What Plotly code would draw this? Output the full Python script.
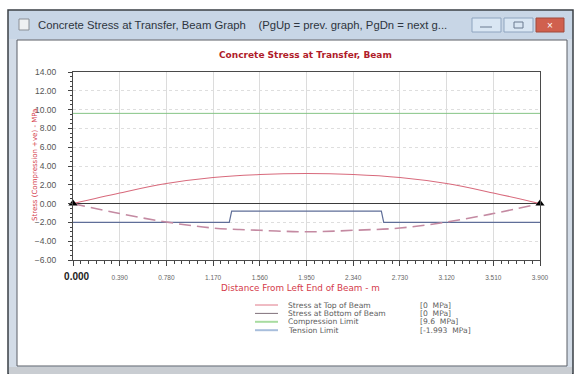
import plotly.graph_objects as go

# ---------------- data ----------------
x_pos = [0.0, 0.39, 0.78, 1.17, 1.56, 1.95, 2.34, 2.73, 3.12, 3.51, 3.90]
stress_top = [0.0, 1.13, 2.13, 2.77, 3.09, 3.20, 3.09, 2.77, 2.13, 1.13, 0.0]
stress_bottom = [0.0, -1.06, -1.96, -2.60, -2.84, -3.00, -2.84, -2.60, -1.96, -1.06, 0.0]
compression_limit = 9.6
tension_x = [0.0, 1.305, 1.325, 2.575, 2.595, 3.90]
tension_y = [-1.993, -1.993, -0.80, -0.80, -1.993, -1.993]
support_x = [0.0, 3.90]
support_y = [0.0, 0.0]
x_ticks = [0.0, 0.39, 0.78, 1.17, 1.56, 1.95, 2.34, 2.73, 3.12, 3.51, 3.90]
legend_names = ["Stress at Top of Beam", "Stress at Bottom of Beam", "Compression Limit", "Tension Limit"]
legend_values = ["[0  MPa]", "[0  MPa]", "[9.6  MPa]", "[-1.993  MPa]"]
legend_colors = ["#e07888", "#80707a", "#a8dca0", "#a8bedc"]
legend_widths = [1, 1, 2, 2]

# ---------------- layout geometry (pixels) ----------------
W, H = 574, 374
L, R, T, B = 73, 540, 72, 260
PW, PH = R - L, B - T


def px(x):
    return (x - L) / PW


def py(y):
    return (B - y) / PH


fig = go.Figure()

fig.add_trace(go.Scatter(x=[0, 3.9], y=[compression_limit] * 2, mode="lines",
                         line=dict(color="#86c486", width=1), showlegend=False))
fig.add_trace(go.Scatter(x=tension_x, y=tension_y, mode="lines",
                         line=dict(color="#5f6e98", width=1.2), showlegend=False))
fig.add_trace(go.Scatter(x=x_pos, y=stress_bottom, mode="lines",
                         line=dict(color="#c48aa2", width=1.6, dash="12px,6px", shape="spline"),
                         showlegend=False))
fig.add_trace(go.Scatter(x=x_pos, y=stress_top, mode="lines",
                         line=dict(color="#d86a7c", width=1.1, shape="spline"),
                         showlegend=False))
fig.add_trace(go.Scatter(x=support_x, y=support_y, mode="markers",
                         marker=dict(symbol="triangle-up", size=8, color="black"),
                         cliponaxis=False, showlegend=False))

shapes = []
# window outer frame
shapes.append(dict(type="rect", xref="paper", yref="paper", x0=px(8), x1=px(573), y0=py(10), y1=py(374),
                   fillcolor="#d3dce7", line=dict(color="#3a3f45", width=1.5), layer="below"))
# title bar
shapes.append(dict(type="rect", xref="paper", yref="paper", x0=px(9), x1=px(572), y0=py(11), y1=py(39),
                   fillcolor="#c8d6e6", line=dict(width=0), layer="below"))
# client area
shapes.append(dict(type="rect", xref="paper", yref="paper", x0=px(17), x1=px(567), y0=py(40), y1=py(366),
                   fillcolor="white", line=dict(color="#5a5f66", width=1), layer="below"))
# bottom bar
shapes.append(dict(type="rect", xref="paper", yref="paper", x0=px(9), x1=px(572), y0=py(367), y1=py(374),
                   fillcolor="#c9cdd2", line=dict(width=0), layer="below"))
# icon
shapes.append(dict(type="rect", xref="paper", yref="paper", x0=px(19), x1=px(29), y0=py(19), y1=py(30),
                   fillcolor="#eef0f2", line=dict(color="#8a8f96", width=1), layer="below"))
# buttons
shapes.append(dict(type="rect", xref="paper", yref="paper", x0=px(472), x1=px(501), y0=py(18), y1=py(32),
                   fillcolor="#d9e6f3", line=dict(color="#8ea4bf", width=1), layer="below"))
shapes.append(dict(type="rect", xref="paper", yref="paper", x0=px(504), x1=px(533), y0=py(18), y1=py(32),
                   fillcolor="#d9e6f3", line=dict(color="#8ea4bf", width=1), layer="below"))
shapes.append(dict(type="rect", xref="paper", yref="paper", x0=px(536), x1=px(564), y0=py(18), y1=py(32),
                   fillcolor="#d0604e", line=dict(color="#a04a3c", width=1), layer="below"))
shapes.append(dict(type="line", xref="paper", yref="paper", x0=px(480), x1=px(492), y0=py(27), y1=py(27),
                   line=dict(color="#6a7a90", width=1), layer="below"))
shapes.append(dict(type="rect", xref="paper", yref="paper", x0=px(514), x1=px(523), y0=py(22), y1=py(28),
                   line=dict(color="#6a7a90", width=1), layer="below"))

annotations = []
annotations.append(dict(text="Concrete Stress at Transfer, Beam Graph    (PgUp = prev. graph, PgDn = next g...",
                        xref="paper", yref="paper", x=px(36), y=py(25), xanchor="left", yanchor="middle",
                        showarrow=False, font=dict(family="Liberation Sans", size=11.3, color="#2e3540")))
annotations.append(dict(text="×", xref="paper", yref="paper", x=px(550), y=py(25), xanchor="center",
                        yanchor="middle", showarrow=False, font=dict(family="Liberation Sans", size=10, color="white")))
annotations.append(dict(text="<b>Concrete Stress at Transfer, Beam</b>", xref="paper", yref="paper",
                        x=px(305), y=py(55), xanchor="center", yanchor="middle", showarrow=False,
                        font=dict(family="DejaVu Sans", size=9, color="#b01c2a")))
annotations.append(dict(text="Stress (Compression +ve) - MPa", xref="paper", yref="paper",
                        x=px(35), y=py(165), xanchor="center", yanchor="middle", textangle=-90,
                        showarrow=False, font=dict(family="DejaVu Sans", size=7, color="#d43a4a")))
annotations.append(dict(text="Distance From Left End of Beam - m", xref="paper", yref="paper",
                        x=px(300), y=py(288), xanchor="center", yanchor="middle",
                        showarrow=False, font=dict(family="DejaVu Sans", size=8.8, color="#d43a4a")))

# custom legend
for i, (nm, val, col, lw) in enumerate(zip(legend_names, legend_values, legend_colors, legend_widths)):
    yy = 305 + 8.4 * i
    shapes.append(dict(type="line", xref="paper", yref="paper", x0=px(255), x1=px(278), y0=py(yy), y1=py(yy),
                       line=dict(color=col, width=lw)))
    annotations.append(dict(text=nm, xref="paper", yref="paper", x=px(286), y=py(yy), xanchor="left",
                            yanchor="middle", showarrow=False,
                            font=dict(family="DejaVu Sans", size=7.6, color="#606060")))
    annotations.append(dict(text=val, xref="paper", yref="paper", x=px(418), y=py(yy), xanchor="left",
                            yanchor="middle", showarrow=False,
                            font=dict(family="DejaVu Sans", size=7.6, color="#606060")))

tick_text = ["\u00a0\u00a0\u00a0\u00a0<span style='font-size:10px;color:#222'><b>%.3f</b></span>" % x_ticks[0]] + \
            ["%.3f" % v for v in x_ticks[1:]]

fig.update_layout(
    width=W, height=H,
    margin=dict(l=L, r=W - R, t=T, b=H - B, autoexpand=False),
    paper_bgcolor="white", plot_bgcolor="white",
    showlegend=False,
    shapes=shapes, annotations=annotations,
    xaxis=dict(range=[0, 3.9], tickmode="array", tickvals=x_ticks, ticktext=tick_text,
               ticks="outside", ticklen=5, tickcolor="#444", ticklabelstandoff=6,
               tickfont=dict(family="Liberation Sans", size=6.5, color="#666"),
               showgrid=True, gridcolor="#dcdcdc", gridwidth=1,
               showline=True, linecolor="#4a4a4a", linewidth=1, mirror=True, zeroline=False,
               minor=dict(dtick=0.065, ticklen=3, ticks="outside", tickcolor="#444", showgrid=False)),
    yaxis=dict(range=[-6, 14], dtick=2, tick0=0, tickformat=".2f",
               ticks="outside", ticklen=4, tickcolor="#444", ticklabelstandoff=10,
               tickfont=dict(family="Liberation Sans", size=8.5, color="#555"),
               showgrid=True, gridcolor="#dedede", griddash="dot", gridwidth=1,
               showline=True, linecolor="#4a4a4a", linewidth=1, mirror=True,
               zeroline=True, zerolinecolor="#3a3a3a", zerolinewidth=1.2,
               minor=dict(dtick=0.5, ticklen=2, ticks="outside", tickcolor="#444", showgrid=False)),
)

fig.write_html("out.html")
